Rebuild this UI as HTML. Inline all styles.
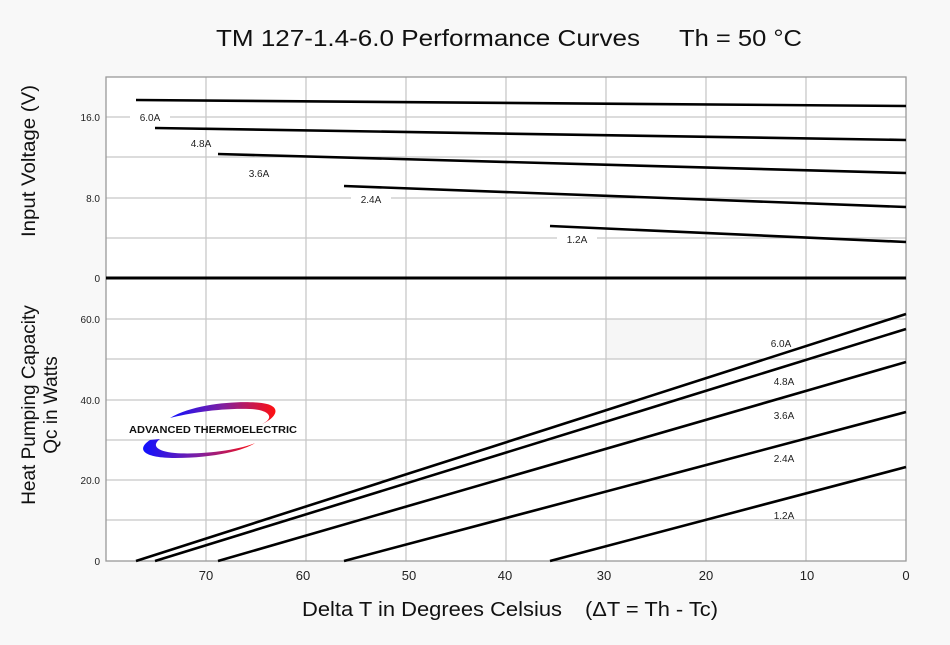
<!DOCTYPE html>
<html><head><meta charset="utf-8"><style>
html,body{margin:0;padding:0;background:#f8f8f8;}
svg{display:block;font-family:"Liberation Sans",Arial,sans-serif;}
</style></head><body>
<svg width="950" height="645" viewBox="0 0 950 645" xmlns="http://www.w3.org/2000/svg">
<defs>
<linearGradient id="g" x1="0" x2="1" y1="0" y2="0"><stop offset="0" stop-color="#1010ff"/><stop offset="0.5" stop-color="#8020a0"/><stop offset="1" stop-color="#ff1010"/></linearGradient>
</defs>
<rect width="950" height="645" fill="#f8f8f8"/>
<text x="216" y="46" font-size="23" textLength="424" lengthAdjust="spacingAndGlyphs" fill="#111">TM 127-1.4-6.0 Performance Curves</text>
<text x="679" y="46" font-size="23" textLength="123" lengthAdjust="spacingAndGlyphs" fill="#111">Th = 50 °C</text>
<rect x="106" y="77" width="800" height="484" fill="#fff"/>
<rect x="606" y="319" width="100" height="40" fill="#f6f6f6"/>
<g stroke="#c8c8c8" stroke-width="1.3">
<line x1="206" y1="77" x2="206" y2="561"/><line x1="306" y1="77" x2="306" y2="561"/><line x1="406" y1="77" x2="406" y2="561"/><line x1="506" y1="77" x2="506" y2="561"/><line x1="606" y1="77" x2="606" y2="561"/><line x1="706" y1="77" x2="706" y2="561"/><line x1="806" y1="77" x2="806" y2="561"/>
<line x1="106" y1="117" x2="906" y2="117"/><line x1="106" y1="157" x2="906" y2="157"/><line x1="106" y1="198" x2="906" y2="198"/><line x1="106" y1="238" x2="906" y2="238"/>
<line x1="106" y1="319" x2="906" y2="319"/><line x1="106" y1="359" x2="906" y2="359"/><line x1="106" y1="400" x2="906" y2="400"/><line x1="106" y1="440" x2="906" y2="440"/><line x1="106" y1="480" x2="906" y2="480"/><line x1="106" y1="520" x2="906" y2="520"/>
</g>
<rect x="106" y="77" width="800" height="484" fill="none" stroke="#999" stroke-width="1.3"/>
<line x1="106" y1="278" x2="906" y2="278" stroke="#000" stroke-width="3"/>
<g stroke="#000" stroke-width="2.6" fill="none">
<line x1="136" y1="100" x2="906" y2="106"/>
<line x1="155" y1="128" x2="906" y2="140"/>
<line x1="218" y1="154" x2="906" y2="173"/>
<line x1="344" y1="186" x2="906" y2="207"/>
<line x1="550" y1="226" x2="906" y2="242"/>
<line x1="136" y1="561" x2="906" y2="314"/>
<line x1="155" y1="561" x2="906" y2="329"/>
<line x1="218" y1="561" x2="906" y2="362"/>
<line x1="344" y1="561" x2="906" y2="412"/>
<line x1="550" y1="561" x2="906" y2="467"/>
</g>
<g font-size="10" fill="#222" text-anchor="middle">
<rect x="130" y="110" width="40" height="13" fill="#fff"/><text x="150" y="121">6.0A</text>
<text x="201" y="147">4.8A</text>
<text x="259" y="177">3.6A</text>
<rect x="351" y="192" width="40" height="13" fill="#fff"/><text x="371" y="203">2.4A</text>
<rect x="557" y="232" width="40" height="13" fill="#fff"/><text x="577" y="243">1.2A</text>
<text x="781" y="347">6.0A</text>
<text x="784" y="385">4.8A</text>
<text x="784" y="419">3.6A</text>
<text x="784" y="462">2.4A</text>
<text x="784" y="519">1.2A</text>
</g>
<g font-size="10" fill="#222" text-anchor="end">
<text x="100" y="121">16.0</text><text x="100" y="202">8.0</text><text x="100" y="282">0</text>
<text x="100" y="323">60.0</text><text x="100" y="404">40.0</text><text x="100" y="484">20.0</text><text x="100" y="565">0</text>
</g>
<g font-size="13" fill="#222" text-anchor="middle">
<text x="206" y="580">70</text><text x="303" y="580">60</text><text x="409" y="580">50</text><text x="505" y="580">40</text><text x="604" y="580">30</text><text x="706" y="580">20</text><text x="807" y="580">10</text><text x="906" y="580">0</text>
</g>
<text x="302" y="616" font-size="20" textLength="260" lengthAdjust="spacingAndGlyphs" fill="#111">Delta T in Degrees Celsius</text>
<text x="585" y="616" font-size="20" textLength="133" lengthAdjust="spacingAndGlyphs" fill="#111">(ΔT = Th - Tc)</text>
<g font-size="19" fill="#111" text-anchor="middle">
<text transform="translate(35,161) rotate(-90)" textLength="152" lengthAdjust="spacingAndGlyphs">Input Voltage (V)</text>
<text transform="translate(35,405) rotate(-90)">Heat Pumping Capacity</text>
<text transform="translate(57,405) rotate(-90)">Qc in Watts</text>
</g>
<path d="M170,418 C200,400 260,400 270,405 C282,410 272,420 262,424 C275,418 270,410 250,409 C220,408 190,413 170,418 Z" fill="url(#g)"/>
<path d="M150,440 C135,450 145,458 175,458 C215,458 245,450 255,443 C240,450 200,455 175,453 C155,451 152,445 160,439 Z" fill="url(#g)"/>
<text x="213" y="433" font-size="10.5" font-weight="bold" text-anchor="middle" fill="#111" textLength="168" lengthAdjust="spacingAndGlyphs">ADVANCED THERMOELECTRIC</text>
</svg>
</body></html>
